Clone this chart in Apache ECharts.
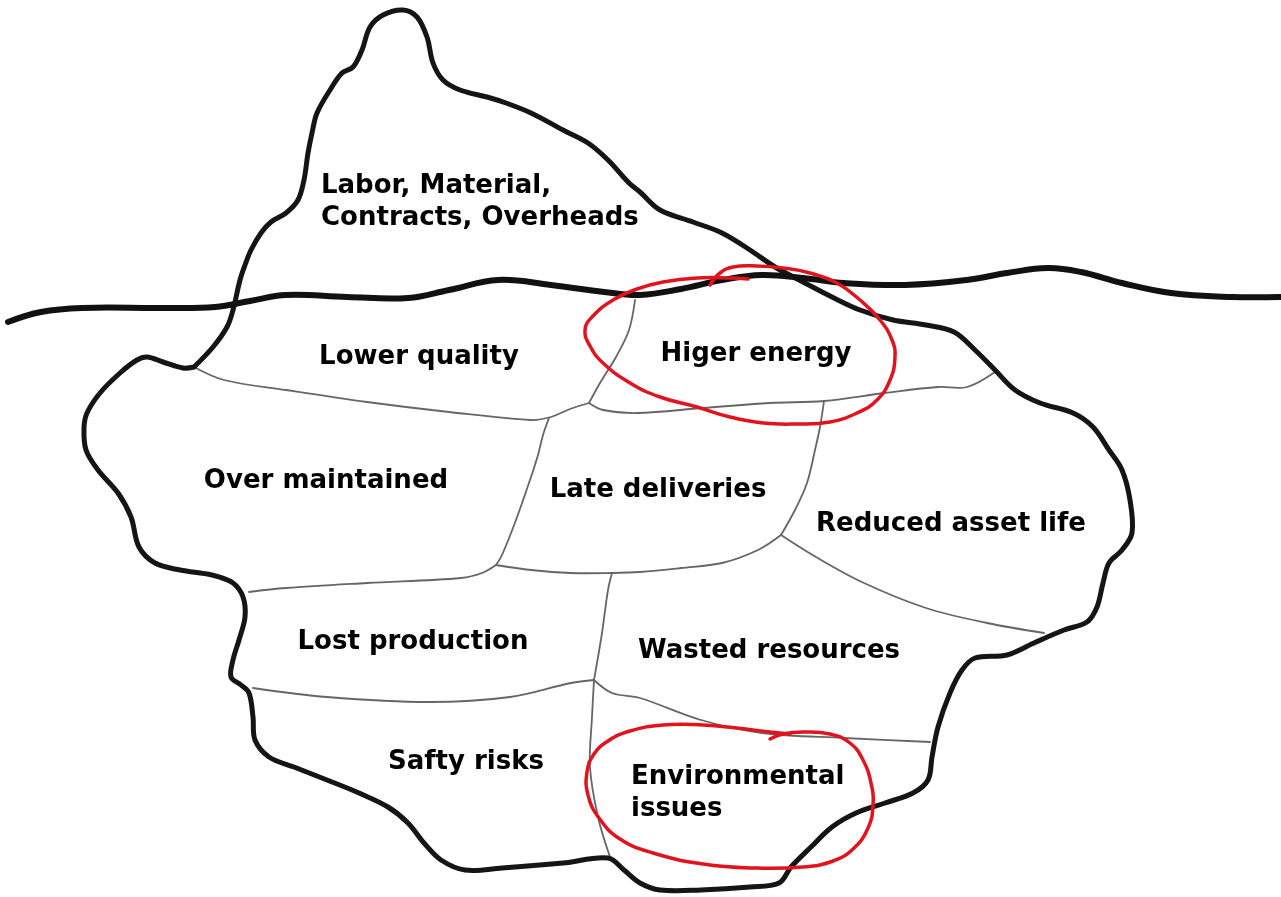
<!DOCTYPE html>
<html>
<head>
<meta charset="utf-8">
<script src="https://cdn.jsdelivr.net/npm/echarts@6/dist/echarts.min.js"></script>
<style>html,body{margin:0;padding:0;background:#fff}#c{width:1281px;height:897px}</style>
</head>
<body>
<div id="c"></div>
<script>
// Iceberg outline: tip (from left junction, over the peak, down the right side) and underwater body
var icebergOutline = [[194,367],[213,347],[227,327],[233,310],[240,280],[245,265],[251,250],[261,233],[271,222],[286,213],[298,200],[304,180],[308,153],[312,133],[317,113],[330,90],[342,73],[353,67],[362,50],[370,27],[383,15],[403,10],[417,17],[427,37],[433,63],[443,80],[460,90],[487,97],[506,103],[531,113],[563,130],[588,143],[608,160],[629,183],[640,192],[660,210],[693,222],[722,233],[750,250],[775,267],[803,282],[832,297],[860,310],[893,320],[926,325],[954,332],[975,350],[995,370],[1015,390],[1040,403],[1073,413],[1093,427],[1109,450],[1122,470],[1130,500],[1132,533],[1122,550],[1109,563],[1103,583],[1097,607],[1087,622],[1064,630],[1036,642],[1007,655],[975,658],[962,670],[950,693],[938,727],[932,757],[928,780],[913,793],[885,803],[856,813],[832,827],[811,847],[791,867],[779,883],[750,887],[701,890],[660,890],[640,883],[624,870],[608,858],[563,863],[502,868],[465,870],[441,860],[424,843],[408,823],[388,807],[359,793],[327,780],[294,767],[269,757],[255,740],[253,717],[249,693],[241,685],[231,677],[233,660],[239,640],[245,617],[243,597],[233,583],[212,575],[180,570],[155,563],[139,547],[131,517],[118,493],[98,470],[86,450],[84,428],[87,413],[100,393],[120,373],[137,360],[147,357],[163,362],[183,368],[194,367]];
// Water line
var waterLine = [[8,322],[41,312],[82,308],[163,308],[215,307],[250,301],[286,295],[347,297],[408,298],[449,290],[498,280],[551,285],[604,292],[640,295],[681,289],[722,280],[762,275],[803,278],[844,283],[905,285],[967,280],[1007,273],[1048,268],[1081,272],[1122,283],[1171,293],[1232,297],[1280,297]];
// Interior dividing lines
var dividerLines = [
  [[194,367],[224,380],[286,390],[367,402],[449,412],[531,420],[551,417],[570,409],[589,403]],
  [[589,403],[603,410],[637,413],[703,408],[770,403],[824,401],[885,393],[938,387],[967,387],[995,372]],
  [[589,403],[600,383],[616,357],[629,330],[635,300]],
  [[549,418],[543,435],[538,455],[530,480],[516,520],[502,555],[496,565]],
  [[496,565],[482,573],[461,578],[367,583],[286,588],[249,592]],
  [[496,565],[531,570],[571,573],[612,573],[640,572],[681,568],[722,563],[758,550],[781,535]],
  [[824,401],[820,427],[815,450],[807,483],[795,510],[781,535]],
  [[781,535],[816,557],[864,583],[926,608],[987,623],[1044,633]],
  [[612,573],[608,590],[602,633],[594,680]],
  [[594,680],[571,683],[510,697],[429,702],[327,697],[253,688]],
  [[594,680],[612,693],[640,698],[701,720],[762,733],[844,738],[930,742]],
  [[594,680],[592,717],[590,767],[598,817],[610,857]]
];
// Red hand-drawn circles
var redCircles = [
  [[710,285],[720,273],[733,267],[757,266],[783,268],[810,273],[837,283],[860,300],[880,320],[892,340],[895,357],[890,380],[877,400],[857,413],[830,422],[797,424],[763,423],[730,417],[697,407],[660,397],[630,383],[603,363],[590,346],[585,330],[592,317],[613,300],[637,289],[663,282],[697,278],[730,278],[748,279]],
  [[770,739],[783,734],[803,732],[830,734],[850,743],[863,760],[871,783],[873,805],[868,828],[853,849],[833,861],[803,867],[753,868],[703,864],[653,853],[620,839],[599,818],[588,795],[587,772],[594,754],[608,741],[630,731],[663,725],[703,725],[737,728],[770,732],[790,734]]
];
// Centered labels [x, y, text]
var centerLabels = [
  [419,357,'Lower quality'],
  [756,354,'Higer energy'],
  [326,481,'Over maintained'],
  [658,490,'Late deliveries'],
  [951,524,'Reduced asset life'],
  [413,642,'Lost production'],
  [769,651,'Wasted resources'],
  [466,762,'Safty risks']
];
// Left-aligned labels [x, y, text]
var leftLabels = [
  [321,202,'Labor, Material,\nContracts, Overheads'],
  [631,793,'Environmental\nissues']
];

var FONT = 'DejaVu Sans';
var series = [];
function curveSeries(pts, color, width, smooth){
  return {type:'custom', coordinateSystem:'cartesian2d', silent:true, animation:false,
    data:[pts[0]],
    renderItem:function(params, api){
      var p = pts.map(function(d){ return api.coord(d); });
      return {type:'polyline', shape:{points:p, smooth:smooth},
        style:{stroke:color, lineWidth:width, fill:null, lineCap:'round', lineJoin:'round'}};
    }};
}
dividerLines.forEach(function(l){ series.push(curveSeries(l,'#666',1.8,0.35)); });
series.push(curveSeries(icebergOutline,'#151515',5,0.35));
series.push(curveSeries(waterLine,'#111',6,0.4));
redCircles.forEach(function(l){ series.push(curveSeries(l,'#e0141f',3.5,0.45)); });
var labelBase = {show:true, formatter:'{b}', color:'#000', opacity:1, fontFamily:FONT, fontWeight:'bold', fontSize:26};
series.push({type:'scatter', symbolSize:0, silent:true, animation:false, itemStyle:{opacity:1},
  data:centerLabels.map(function(d){return {value:[d[0],d[1]], name:d[2]};}),
  label:Object.assign({position:'inside'}, labelBase)
});
series.push({type:'scatter', symbolSize:0, silent:true, animation:false, itemStyle:{opacity:1},
  data:leftLabels.map(function(d){return {value:[d[0],d[1]], name:d[2]};}),
  label:Object.assign({position:'right', distance:0, align:'left', lineHeight:32}, labelBase)
});

var chart = echarts.init(document.getElementById('c'), null, {renderer:'canvas'});
chart.setOption({
  backgroundColor:'#fff',
  animation:false,
  grid:{left:0,right:0,top:0,bottom:0},
  xAxis:{type:'value', min:0, max:1281, show:false},
  yAxis:{type:'value', min:0, max:897, inverse:true, show:false},
  series:series
});
</script>
</body>
</html>
